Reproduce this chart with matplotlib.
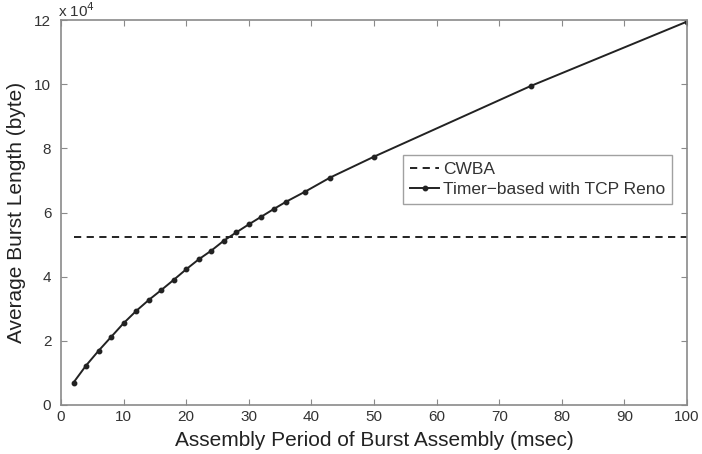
import matplotlib
matplotlib.use("Agg")
import matplotlib.pyplot as plt

# data (burst length in units of 1e4 bytes)
period = [2, 4, 6, 8, 10, 12, 14, 16, 18, 20, 22, 24, 26, 28, 30, 32, 34, 36,
          39, 43, 50, 75, 100]
timer_reno = [0.70, 1.23, 1.69, 2.12, 2.55, 2.93, 3.27, 3.58, 3.90, 4.23, 4.54,
              4.81, 5.12, 5.38, 5.63, 5.87, 6.11, 6.34, 6.65, 7.09, 7.74, 9.94,
              11.95]
cwba_x = [2, 100]
cwba_y = [5.23, 5.23]

xticks = list(range(0, 101, 10))
yticks = list(range(0, 13, 2))

AXC = "#8a8a8a"
TXT = "#333333"

plt.rcParams["font.family"] = ["Liberation Sans", "DejaVu Sans"]

fig = plt.figure(figsize=(7.02, 4.54), dpi=100)
ax = fig.add_axes([61 / 702, 49 / 454, 626 / 702, 385 / 454])

ax.plot(cwba_x, cwba_y, color="#111111", lw=1.3, ls=(0, (4, 3)), label="CWBA")
ax.plot(period, timer_reno, color="#222222", lw=1.4, marker="o", ms=3.2,
        label="Timer\u2212based with TCP Reno")

ax.set_xlim(0, 100)
ax.set_ylim(0, 12)
ax.set_xticks(xticks)
ax.set_yticks(yticks)
ax.tick_params(direction="in", length=4, colors=AXC, labelcolor=TXT,
               labelsize=11, top=True, right=True)
ax.tick_params(axis="y", pad=7)
for s in ax.spines.values():
    s.set_color(AXC)
    s.set_linewidth(1.2)

ax.set_xlabel("Assembly Period of Burst Assembly (msec)", fontsize=15,
              color="#222222")
ax.set_ylabel("Average Burst Length (byte)", fontsize=15, color="#222222")
ax.xaxis.set_label_coords(0.5, -(441 - 405) / 385, transform=ax.transAxes)
ax.xaxis.label.set_va("center")
ax.yaxis.set_label_coords(-(61 - 16) / 626, 0.5, transform=ax.transAxes)
ax.yaxis.label.set_va("center")
ax.text(-0.005, 1.0, r"x 10$^4$", transform=ax.transAxes, fontsize=11,
        color=TXT, ha="left", va="bottom")

leg = ax.legend(loc="upper left", bbox_to_anchor=(342 / 626, 1 - 135 / 385),
                fontsize=12.5, frameon=True, fancybox=False, borderpad=0.4,
                handlelength=1.7, handletextpad=0.2, labelspacing=0.3,
                borderaxespad=0)
leg.get_frame().set_edgecolor(AXC)
leg.get_frame().set_linewidth(1.0)
for t in leg.get_texts():
    t.set_color(TXT)

fig.savefig("out.png", dpi=100)
